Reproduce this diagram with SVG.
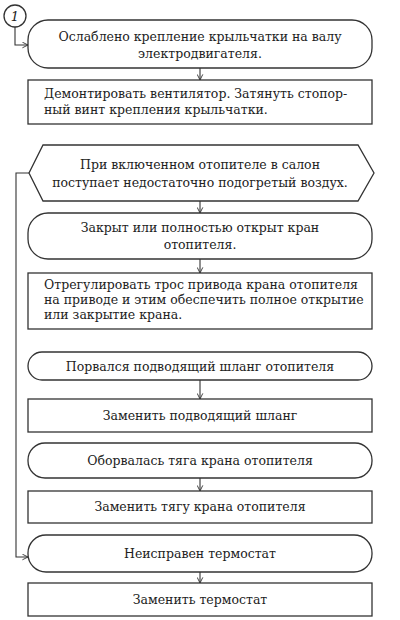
<svg xmlns="http://www.w3.org/2000/svg" width="400" height="620" viewBox="0 0 400 620">
<style>
.n{fill:#fff;stroke:#333;stroke-width:1.3}
.t{font-family:"DejaVu Serif","Liberation Serif",serif;font-size:12.5px;fill:#222}
.c{text-anchor:middle}
.l{fill:none;stroke:#333;stroke-width:1.1}
</style>
<defs>
<marker id="a" viewBox="0 0 10 10" refX="9" refY="5" markerWidth="7" markerHeight="7" orient="auto" markerUnits="userSpaceOnUse">
<path d="M1,1 L9,5 L1,9" fill="none" stroke="#333" stroke-width="1.3"/>
</marker>
</defs>
<rect width="400" height="620" fill="#fff"/>
<g id="connectors">
<path class="l" d="M15,27 V45 H28" marker-end="url(#a)"/>
<path class="l" d="M200,68 V80" marker-end="url(#a)"/>
<path class="l" d="M200,201 V213" marker-end="url(#a)"/>
<path class="l" d="M200,259 V273" marker-end="url(#a)"/>
<path class="l" d="M200,380 V399" marker-end="url(#a)"/>
<path class="l" d="M200,478 V491" marker-end="url(#a)"/>
<path class="l" d="M200,572 V583" marker-end="url(#a)"/>
<path class="l" d="M29,173 H16 V557 H28" marker-end="url(#a)"/>
</g>
<g id="start">
<circle class="n" cx="15" cy="16" r="11"/>
<text class="t c" x="15" y="21" style="font-style:italic;font-size:13px">1</text>
</g>
<g id="n1">
<rect class="n" x="28" y="20" width="344" height="48" rx="20"/>
<text class="t c" x="200" y="41">Ослаблено крепление крыльчатки на валу</text>
<text class="t c" x="200" y="58">электродвигателя.</text>
</g>
<g id="n2">
<rect class="n" x="28" y="80" width="344" height="44"/>
<text class="t" x="44" y="98">Демонтировать вентилятор. Затянуть стопор-</text>
<text class="t" x="44" y="114">ный винт крепления крыльчатки.</text>
</g>
<g id="n3">
<polygon class="n" points="43,145 358,145 374,173 358,201 43,201 29,173"/>
<text class="t c" x="200" y="169">При включенном отопителе в салон</text>
<text class="t c" x="200" y="187">поступает недостаточно подогретый воздух.</text>
</g>
<g id="n4">
<rect class="n" x="28" y="213" width="344" height="46" rx="20"/>
<text class="t c" x="200" y="232">Закрыт или полностью открыт кран</text>
<text class="t c" x="200" y="249">отопителя.</text>
</g>
<g id="n5">
<rect class="n" x="28" y="273" width="344" height="56"/>
<text class="t" x="44" y="289">Отрегулировать трос привода крана отопителя</text>
<text class="t" x="44" y="304">на приводе и этим обеспечить полное открытие</text>
<text class="t" x="44" y="319">или закрытие крана.</text>
</g>
<g id="n6">
<rect class="n" x="28" y="352" width="344" height="28" rx="14"/>
<text class="t c" x="200" y="371">Порвался подводящий шланг отопителя</text>
</g>
<g id="n7">
<rect class="n" x="28" y="399" width="344" height="33"/>
<text class="t c" x="200" y="420">Заменить подводящий шланг</text>
</g>
<g id="n8">
<rect class="n" x="28" y="443" width="344" height="35" rx="17"/>
<text class="t c" x="200" y="465">Оборвалась тяга крана отопителя</text>
</g>
<g id="n9">
<rect class="n" x="28" y="491" width="344" height="32"/>
<text class="t c" x="200" y="511">Заменить тягу крана отопителя</text>
</g>
<g id="n10">
<rect class="n" x="28" y="535" width="344" height="37" rx="18"/>
<text class="t c" x="200" y="558">Неисправен термостат</text>
</g>
<g id="n11">
<rect class="n" x="28" y="583" width="344" height="33"/>
<text class="t c" x="200" y="604">Заменить термостат</text>
</g>
</svg>
